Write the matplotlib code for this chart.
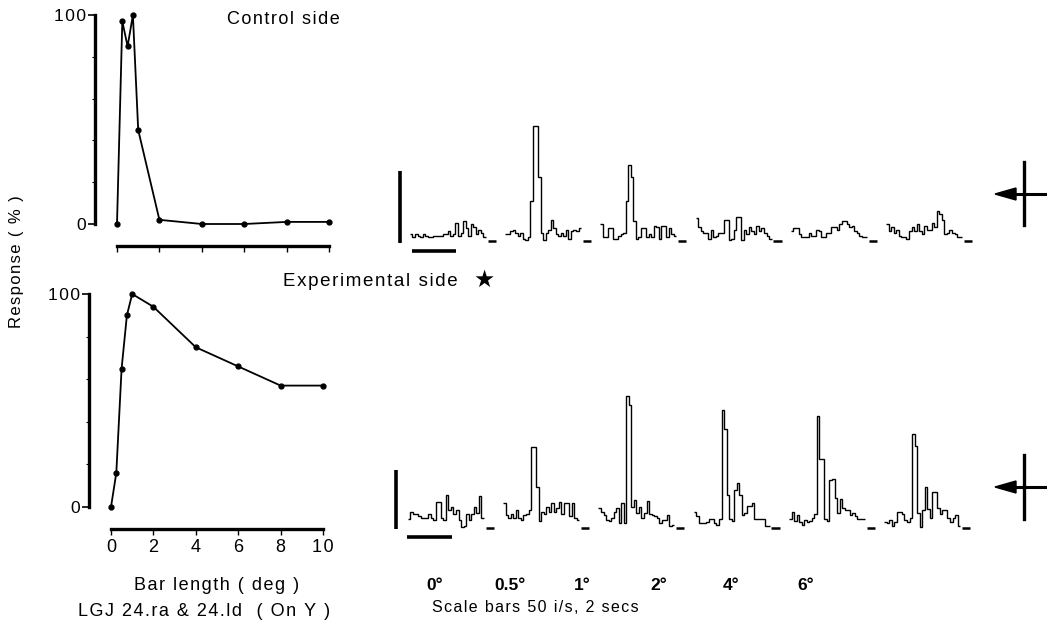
import matplotlib.pyplot as plt
import numpy as np

plt.rcParams['font.family'] = ['Liberation Sans', 'DejaVu Sans']

# tuning curves (bar length in deg, response in %)
bar_len = [0, 0.25, 0.5, 0.75, 1, 2, 4, 6, 8, 10]
control_resp = [0, 97, 85, 100, 45, 2, 0, 0, 1, 1]
exp_resp = [0, 16, 65, 90, 100, 94, 75, 66, 57, 57]

# histogram labels
hist_labels = ['0°', '0.5°', '1°', '2°', '4°', '6°']

# PSTH bin heights (impulses/s), control side
control_hist = [
    [4, 2, 4, 3, 2, 4, 3, 2, 2, 3, 3, 3, 3, 4, 4, 6, 3, 4, 12, 3, 5, 13, 8, 3, 11, 9, 4, 7, 5, 2],
    [4, 4, 6, 7, 5, 3, 5, 1, 0, 2, 27, 79, 79, 44, 5, 0, 5, 7, 14, 8, 4, 3, 5, 3, 7, 1, 6, 7, 6, 8],
    [11, 2, 2, 8, 8, 1, 1, 3, 4, 5, 27, 52, 44, 13, 1, 2, 8, 8, 2, 4, 2, 10, 9, 1, 10, 10, 2, 8, 4, 3],
    [15, 9, 6, 5, 5, 1, 7, 2, 3, 5, 5, 14, 14, 0, 1, 7, 16, 16, 0, 7, 4, 9, 6, 4, 10, 6, 8, 5, 3, 1],
    [6, 8, 8, 4, 2, 2, 2, 5, 3, 3, 7, 6, 2, 2, 5, 5, 9, 9, 7, 11, 13, 13, 11, 9, 10, 6, 5, 3, 2, 2],
    [11, 6, 9, 5, 7, 3, 2, 2, 1, 6, 9, 6, 11, 6, 4, 10, 7, 7, 12, 9, 20, 18, 14, 4, 5, 7, 5, 4, 2, 2],
]
# experimental side
exp_hist = [
    [7, 13, 11, 11, 9, 8, 8, 8, 11, 8, 6, 21, 21, 8, 6, 27, 14, 17, 11, 14, 6, 0, 1, 11, 6, 11, 17, 12, 26, 8],
    [20, 10, 8, 11, 8, 14, 8, 6, 10, 11, 14, 68, 68, 34, 5, 13, 11, 17, 13, 20, 13, 16, 21, 11, 20, 20, 9, 20, 8, 6],
    [16, 13, 10, 6, 5, 8, 13, 16, 3, 20, 3, 111, 103, 17, 23, 12, 17, 8, 12, 22, 11, 10, 9, 8, 3, 6, 6, 10, 1, 2],
    [13, 9, 3, 3, 3, 4, 7, 7, 3, 2, 7, 99, 83, 27, 7, 5, 31, 37, 27, 10, 12, 18, 18, 20, 7, 7, 7, 7, 1, 1],
    [7, 13, 5, 10, 4, 2, 6, 4, 5, 8, 11, 94, 58, 58, 7, 5, 40, 41, 25, 12, 24, 16, 14, 14, 10, 12, 9, 7, 7, 7],
    [4, 3, 6, 1, 4, 13, 13, 11, 6, 4, 8, 79, 69, 12, 0, 14, 34, 15, 8, 30, 30, 16, 11, 14, 14, 8, 4, 8, 10, 1],
]

W, H = 1047, 626
fig = plt.figure(figsize=(W / 100, H / 100), dpi=100)


def sp(s):
    # the scan's type is letter-spaced; mimic it with hair spaces
    return '\u200a'.join(s)


def rect(x0, y0, x1, y1):
    return [x0 / W, 1 - y1 / H, (x1 - x0) / W, (y1 - y0) / H]


def ftext(x, y, s, **kw):
    fig.text(x / W, 1 - y / H, s, **kw)


def curve_panel(box, resp, xlabels):
    ax = fig.add_axes(rect(*box))
    ax.plot(bar_len, resp, color='k', lw=1.3, marker='o', ms=3.5, clip_on=False)
    ax.set_xlim(0, 10)
    ax.set_ylim(0, 100)
    for s in ['top', 'right']:
        ax.spines[s].set_visible(False)
    for s in ['left', 'bottom']:
        ax.spines[s].set_linewidth(2.4)
        ax.spines[s].set_position(('outward', 16))
    ax.spines['left'].set_bounds(0, 100)
    ax.spines['bottom'].set_bounds(0, 10)
    ax.set_yticks([0, 100], [sp('0'), sp('100')])
    ax.set_yticks([20, 40, 60, 80], minor=True)
    ticks = [0, 2, 4, 6, 8, 10]
    ax.set_xticks(ticks, [sp(str(t)) for t in ticks])
    ax.tick_params(axis='y', which='major', length=5, width=1.2, labelsize=12.5, pad=1)
    ax.tick_params(axis='y', which='minor', length=2, width=0.8)
    ax.tick_params(axis='x', length=4, width=1, labelsize=13, pad=3,
                   labelbottom=xlabels)
    return ax


curve_panel((117, 15, 329, 224), control_resp, False)
curve_panel((111, 294, 323, 507), exp_resp, True)

# histogram rows
PX_S = 22.0          # pixels per second
BIN_W = 0.115        # seconds
GAP = 4.33           # seconds between histogram starts


def hist_row(base, px_ips, ylo, yhi, data, t0, vbar_x, hbar, hbar_y):
    ax = fig.add_axes(rect(380, base - yhi * px_ips, W, base - ylo * px_ips))
    ax.set_xlim(0, (W - 380) / PX_S)
    ax.set_ylim(ylo, yhi)
    ax.axis('off')
    for k, vals in enumerate(data):
        start = t0 + k * GAP
        edges = start + BIN_W * np.arange(len(vals) + 1)
        ax.stairs(vals, edges, color='k', lw=1.0, baseline=None)
        ax.plot([edges[-1] + 0.08, edges[-1] + 0.45], [-1, -1], color='k', lw=1.8,
                solid_capstyle='butt')
    ax.plot([vbar_x, vbar_x], [-2, 48], color='k', lw=2.6, solid_capstyle='butt')
    ax.plot(hbar, [hbar_y, hbar_y], color='k', lw=2.6, solid_capstyle='butt')
    return ax


hist_row(240, 1.44, -10, 100, control_hist, 1.36, 0.91, [1.45, 3.45], -7.6)
hist_row(527, 1.18, -12, 130, exp_hist, 1.27, 0.73, [1.23, 3.27], -8.5)


def cross(yc, y0, y1):
    fig.add_artist(plt.Line2D([1024 / W, 1024 / W], [1 - y0 / H, 1 - y1 / H],
                              color='k', lw=2.4))
    fig.add_artist(plt.Line2D([1000 / W, 1045 / W], [1 - yc / H, 1 - yc / H],
                              color='k', lw=2.2))
    fig.patches.append(plt.Polygon([[995 / W, 1 - yc / H], [1016 / W, 1 - (yc - 6) / H],
                                    [1016 / W, 1 - (yc + 6) / H]], closed=True,
                                   color='k', transform=fig.transFigure, figure=fig))


cross(194, 162, 225)
cross(487, 455, 519)

# texts
ftext(340, 19, sp('Control side'), ha='right', va='center', fontsize=13)
ftext(283, 281, sp('Experimental side'), ha='left', va='center', fontsize=13.5)
ftext(484, 280, '★', ha='center', va='center', fontsize=17, family=['DejaVu Sans'])
ftext(17, 262, sp('Response ( % )'), ha='center', va='center', rotation=90, fontsize=12)
ftext(217, 586, sp('Bar length ( deg )'), ha='center', va='center', fontsize=13)
ftext(204, 611, sp('LGJ 24.ra & 24.ld  ( On Y )'), ha='center', va='center', fontsize=13)
label_x = [435, 510, 582, 659, 731, 806]
for lx, lab in zip(label_x, hist_labels):
    ftext(lx, 585, lab, ha='center', va='center', fontsize=12.5, fontweight='bold')
ftext(432, 608, sp('Scale bars 50 i/s, 2 secs'), ha='left', va='center', fontsize=11.5)

fig.savefig('out.png', dpi=100)
